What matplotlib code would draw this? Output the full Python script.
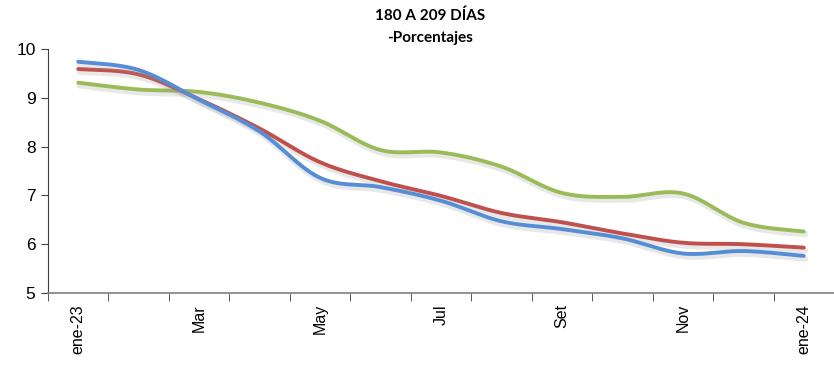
import numpy as np
import matplotlib
matplotlib.use('Agg')
import matplotlib.pyplot as plt
import matplotlib.patheffects as pe

meses = ['ene-23', 'Feb', 'Mar', 'Abr', 'May', 'Jun', 'Jul', 'Ago', 'Set', 'Oct', 'Nov', 'Dic', 'ene-24']
azul = [9.74, 9.57, 8.96, 8.31, 7.36, 7.17, 6.89, 6.47, 6.31, 6.12, 5.81, 5.86, 5.76]
rojo = [9.59, 9.48, 8.97, 8.37, 7.68, 7.29, 6.99, 6.64, 6.45, 6.22, 6.03, 6.00, 5.93]
verde = [9.31, 9.17, 9.12, 8.90, 8.53, 7.93, 7.88, 7.59, 7.05, 6.97, 7.04, 6.44, 6.26]


def suavizar(y, n=30):
    # curva suavizada tipo Excel (Catmull-Rom) entre los puntos
    y = np.asarray(y, dtype=float)
    x = np.arange(len(y), dtype=float)
    xs, ys = [], []
    for i in range(len(y) - 1):
        p0 = (x[max(i - 1, 0)], y[max(i - 1, 0)])
        p1 = (x[i], y[i])
        p2 = (x[i + 1], y[i + 1])
        p3 = (x[min(i + 2, len(y) - 1)], y[min(i + 2, len(y) - 1)])
        c1 = (p1[0] + (p2[0] - p0[0]) / 6, p1[1] + (p2[1] - p0[1]) / 6)
        c2 = (p2[0] - (p3[0] - p1[0]) / 6, p2[1] - (p3[1] - p1[1]) / 6)
        t = np.linspace(0, 1, n, endpoint=(i == len(y) - 2))
        for a, b in [(0, xs), (1, ys)]:
            b.extend((1 - t) ** 3 * p1[a] + 3 * (1 - t) ** 2 * t * c1[a]
                     + 3 * (1 - t) * t ** 2 * c2[a] + t ** 3 * p2[a])
    return np.array(xs), np.array(ys)


plt.rcParams['font.family'] = ['Liberation Sans', 'DejaVu Sans']

fig = plt.figure(figsize=(8.34, 3.66), dpi=100)
ax = fig.add_axes([48 / 834, 1 - 293 / 366, 1 - 48 / 834, (293 - 49) / 366])

sombra = [pe.SimpleLineShadow(offset=(1, -2), shadow_color='#999999', alpha=0.22, linewidth=4.5),
          pe.Normal()]

for serie, color in [(verde, '#9BBB59'), (rojo, '#C0504D'), (azul, '#558ED5')]:
    xs, ys = suavizar(serie)
    ax.plot(xs, ys, color=color, lw=2.8, solid_capstyle='round', path_effects=sombra)

ax.set_xlim(-0.5, len(meses) - 0.5)
ax.set_ylim(5, 10)
ax.set_yticks([5, 6, 7, 8, 9, 10])
ax.set_xticks(range(0, len(meses), 2))
ax.set_xticklabels(meses[::2], rotation=90, fontsize=11.5)
ax.set_xticks(np.arange(-0.5, len(meses), 1), minor=True)
ax.tick_params(axis='x', which='major', length=0, pad=8)
ax.tick_params(axis='x', which='minor', length=6, direction='out', color='#404040')
ax.tick_params(axis='y', labelsize=12.5, length=5, direction='out', color='#404040', pad=4)

for s in ['top', 'right']:
    ax.spines[s].set_visible(False)
ax.spines['left'].set_color('#404040')
ax.spines['bottom'].set_color('#808080')
ax.spines['bottom'].set_linewidth(1.2)

fig.text(430 / 834, 1 - 16 / 366, '180 A 209 DÍAS', ha='center', va='center',
         fontsize=11, fontweight='bold', family=['Lato', 'DejaVu Sans'])
fig.text(430 / 834, 1 - 38 / 366, '-Porcentajes', ha='center', va='center',
         fontsize=11, fontweight='bold', family=['Lato', 'DejaVu Sans'])

fig.savefig('out.png', dpi=100)
